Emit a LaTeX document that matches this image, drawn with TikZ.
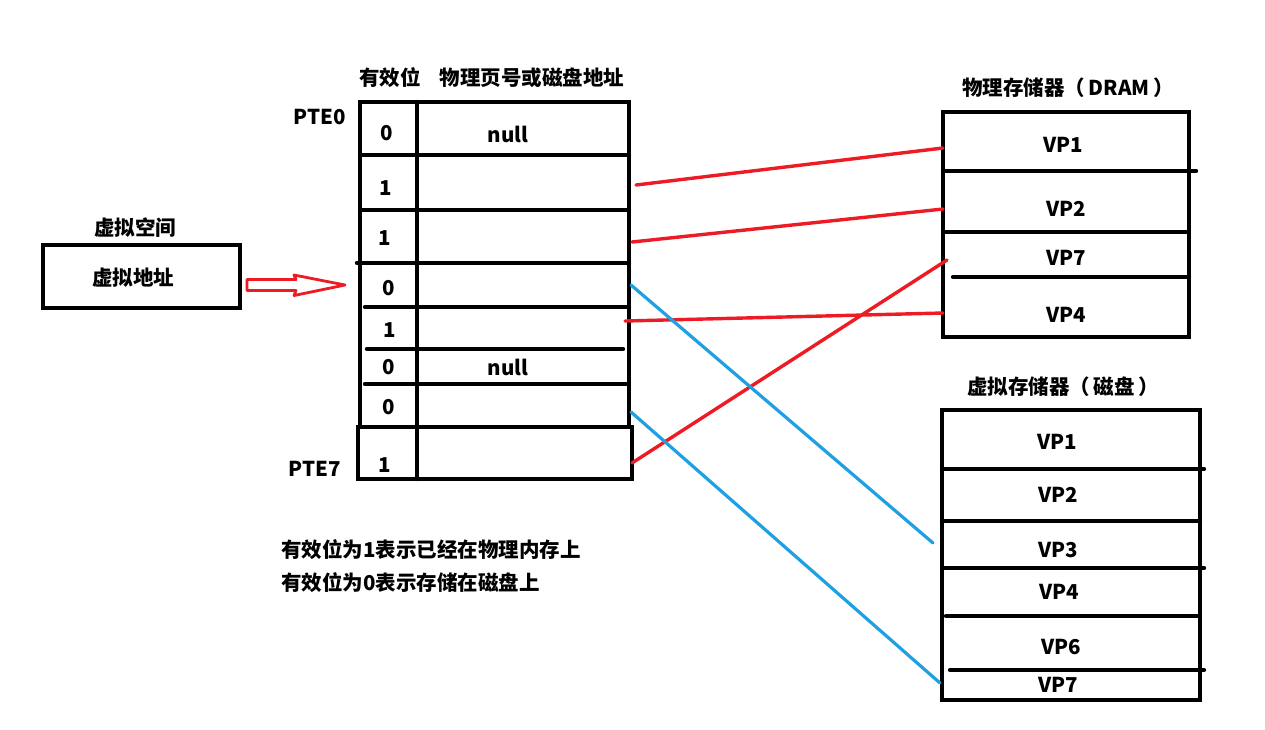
\documentclass[tikz,border=0pt]{standalone}
\usepackage{fontspec}
\setmainfont{Noto Sans CJK SC}
\definecolor{rl}{RGB}{237,28,36}
\definecolor{bl}{RGB}{30,160,226}
\tikzset{
  box/.style={line width=4.4pt, line cap=round},
  lbl/.style={font=\bfseries\fontsize{20.5}{24}\selectfont, inner sep=0pt},
  rline/.style={draw=rl, line width=3.4pt, line cap=round},
  bline/.style={draw=bl, line width=3.2pt, line cap=round},
}
\begin{document}
\begin{tikzpicture}[x=1pt,y=-1pt]
\useasboundingbox[fill=white] (0,0) rectangle (1265,729);

% ---------- virtual address box ----------
\draw[box] (43,245) rectangle (240,308);
\node[lbl] (vsp) at (135,228) {虚拟空间};
\node[lbl] (vaddr) at (133,278) {虚拟地址};
\coordinate (arS) at (247,285);
\coordinate (arT) at (345,285);
\draw[draw=rl, line width=2.8pt, fill=white, line join=round]
  (247,279.5) -- (296,279.5) -- (294,275) -- (arT) -- (294,295.5) -- (296,290.5) -- (247,290.5) -- cycle;

% ---------- page table ----------
\draw[box] (360,102) rectangle (629,427);
\draw[box] (358,427) rectangle (632,479);
\draw[box] (417,102) -- (417,479);
\draw[box] (360,155) -- (629,155);
\draw[box] (360,210) -- (629,210);
\draw[box] (357,263) -- (629,263);
\draw[box] (365,307) -- (629,307);
\draw[box] (367,349) -- (623,349);
\draw[box] (365,384) -- (629,384);

\node[lbl] (h1) at (390,78) {有效位};
\node[lbl] (h2) at (532,78) {物理页号或磁盘地址};
\node[lbl] (pte0) at (320,117) {PTE0};
\node[lbl] (pte7) at (315,469) {PTE7};

\node[lbl] (b0) at (387,133) {0};
\node[lbl] (b1) at (386,188) {1};
\node[lbl] (b2) at (385,238) {1};
\node[lbl] (b3) at (389,288) {0};
\node[lbl] (b4) at (390,330) {1};
\node[lbl] (b5) at (389,367) {0};
\node[lbl] (b6) at (389,407) {0};
\node[lbl] (b7) at (385,465) {1};
\node[lbl] (n0) at (508,134) {null};
\node[lbl] (n5) at (508,367) {null};

% ---------- DRAM ----------
\node[lbl] (dramt) at (1068,88) {物理存储器（\,DRAM\,）};
\draw[box] (943,112) rectangle (1189,337);
\draw[box] (943,171) -- (1196,171);
\draw[box] (943,232) -- (1189,232);
\draw[box] (953,277) -- (1189,277);
\node[lbl] (d1) at (1063,145) {VP1};
\node[lbl] (d2) at (1066,209) {VP2};
\node[lbl] (d7) at (1066,258) {VP7};
\node[lbl] (d4) at (1066,315) {VP4};

% ---------- Disk ----------
\node[lbl] (diskt) at (1063,387) {虚拟存储器（\,磁盘\,）};
\draw[box] (942,410) rectangle (1200,700);
\draw[box] (942,469) -- (1204,469);
\draw[box] (942,521) -- (1200,521);
\draw[box] (942,568) -- (1204,568);
\draw[box] (946,616) -- (1198,616);
\draw[box] (950,670) -- (1204,670);
\node[lbl] (k1) at (1057,442) {VP1};
\node[lbl] (k2) at (1058,495) {VP2};
\node[lbl] (k3) at (1058,550) {VP3};
\node[lbl] (k4) at (1059,592) {VP4};
\node[lbl] (k6) at (1061,647) {VP6};
\node[lbl] (k7) at (1058,685) {VP7};

% ---------- connectors ----------
\coordinate (r1a) at (636,185);  \coordinate (r1b) at (943,148);
\coordinate (r2a) at (632,242);  \coordinate (r2b) at (943,209);
\coordinate (r3a) at (625,321);  \coordinate (r3b) at (943,313);
\coordinate (r4a) at (632,463);  \coordinate (r4b) at (947,260);
\coordinate (u1a) at (631,285);  \coordinate (u1b) at (933,543);
\coordinate (u2a) at (631,412);  \coordinate (u2b) at (940,683);
\draw[rline] (r1a) -- (r1b);
\draw[rline] (r2a) -- (r2b);
\draw[rline] (r3a) -- (r3b);
\draw[rline] (r4a) -- (r4b);
\draw[bline] (u1a) -- (u1b);
\draw[bline] (u2a) -- (u2b);

% ---------- notes ----------
\node[lbl, anchor=west] (note1) at (281,550) {有效位为1表示已经在物理内存上};
\node[lbl, anchor=west] (note2) at (281,583) {有效位为0表示存储在磁盘上};
\end{tikzpicture}
\end{document}
